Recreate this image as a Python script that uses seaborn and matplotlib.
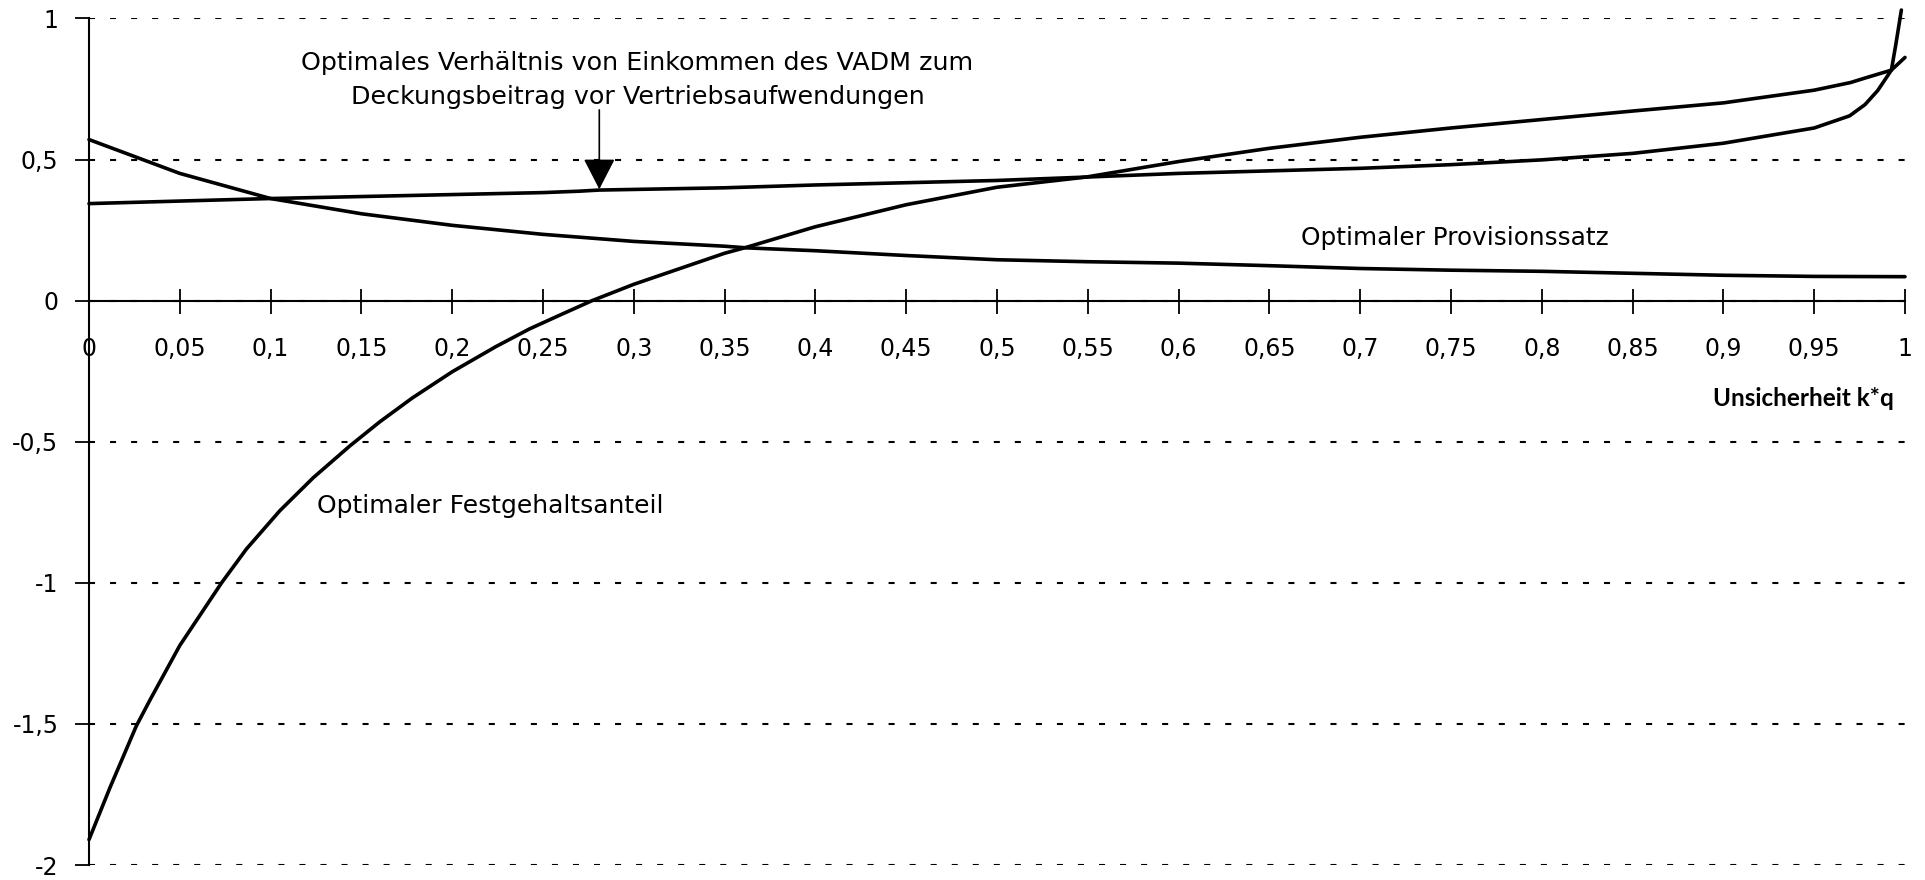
import matplotlib
matplotlib.use("Agg")
import matplotlib.pyplot as plt
import seaborn as sns

# ---------------- data ----------------
x_ticks = [0, 0.05, 0.1, 0.15, 0.2, 0.25, 0.3, 0.35, 0.4, 0.45, 0.5,
           0.55, 0.6, 0.65, 0.7, 0.75, 0.8, 0.85, 0.9, 0.95, 1.0]
x_tick_labels = ["0", "0,05", "0,1", "0,15", "0,2", "0,25", "0,3", "0,35", "0,4",
                 "0,45", "0,5", "0,55", "0,6", "0,65", "0,7", "0,75", "0,8",
                 "0,85", "0,9", "0,95", "1"]
y_ticks = [-2, -1.5, -1, -0.5, 0, 0.5, 1]
y_tick_labels = ["-2", "-1,5", "-1", "-0,5", "0", "0,5", "1"]

# Optimaler Provisionssatz
prov_x = [0, 0.05, 0.1, 0.15, 0.2, 0.25, 0.3, 0.35, 0.3625, 0.4, 0.45, 0.5,
          0.55, 0.6, 0.65, 0.7, 0.75, 0.8, 0.85, 0.9, 0.95, 1.0]
prov_y = [0.571, 0.451, 0.362, 0.308, 0.267, 0.235, 0.21, 0.193, 0.187, 0.177,
          0.16, 0.145, 0.138, 0.133, 0.124, 0.114, 0.108, 0.104, 0.097, 0.09,
          0.086, 0.085]

# Optimaler Festgehaltsanteil
fest_x = [0, 0.0116, 0.026, 0.0336, 0.05, 0.073, 0.0867, 0.105, 0.1234, 0.1436,
          0.16, 0.178, 0.2, 0.224, 0.2426, 0.259, 0.277, 0.3, 0.35, 0.3625,
          0.4, 0.45, 0.5, 0.549, 0.6, 0.65, 0.7, 0.75, 0.8, 0.85, 0.9, 0.95,
          0.97, 0.978, 0.9925, 1.0]
fest_y = [-1.91, -1.725, -1.508, -1.415, -1.222, -1.0, -0.88, -0.745, -0.628, -0.515,
          -0.43, -0.345, -0.252, -0.163, -0.1, -0.052, 0.0, 0.058, 0.168, 0.19,
          0.262, 0.34, 0.402, 0.438, 0.493, 0.54, 0.579, 0.612, 0.642, 0.672,
          0.701, 0.746, 0.773, 0.789, 0.817, 0.862]

# Optimales Verhältnis von Einkommen des VADM zum Deckungsbeitrag
ratio_x = [0, 0.1, 0.25, 0.27, 0.281, 0.35, 0.4, 0.45, 0.5, 0.549, 0.6, 0.65,
           0.7, 0.75, 0.8, 0.85, 0.9, 0.95, 0.9695, 0.978, 0.985, 0.9925,
           0.995, 0.998]
ratio_y = [0.344, 0.362, 0.383, 0.388, 0.392, 0.40, 0.41, 0.418, 0.426, 0.438,
           0.451, 0.46, 0.469, 0.482, 0.499, 0.522, 0.558, 0.612, 0.655, 0.695,
           0.745, 0.817, 0.91, 1.03]

label_ratio_1 = "Optimales Verhältnis von Einkommen des VADM zum"
label_ratio_2 = "Deckungsbeitrag vor Vertriebsaufwendungen"
label_prov = "Optimaler Provisionssatz"
label_fest = "Optimaler Festgehaltsanteil"
x_label = "Unsicherheit k*q"

# ---------------- styling ----------------
sns.set_style("white")
plt.rcParams["font.family"] = ["DejaVu Sans"]
plt.rcParams["text.color"] = "black"

fig = plt.figure(figsize=(19.25, 8.8), dpi=100)
ax = fig.add_axes([89 / 1925, 1 - 865 / 880, (1905 - 89) / 1925, (865 - 18.5) / 880])

line_kw = dict(color="black", linewidth=2.6, estimator=None, sort=False,
               clip_on=False, zorder=4)
sns.lineplot(x=prov_x, y=prov_y, ax=ax, **line_kw)
sns.lineplot(x=fest_x, y=fest_y, ax=ax, **line_kw)
sns.lineplot(x=ratio_x, y=ratio_y, ax=ax, **line_kw)
for ln in ax.get_lines():
    ln.set_solid_joinstyle("round")
    ln.set_solid_capstyle("round")

ax.set_xlim(0, 1)
ax.set_ylim(-2, 1)

# axes / spines
for s in ["top", "right"]:
    ax.spines[s].set_visible(False)
ax.spines["bottom"].set_position(("data", 0))
ax.spines["left"].set_position(("data", 0))
for s in ["bottom", "left"]:
    ax.spines[s].set_color("black")
    ax.spines[s].set_linewidth(1.5)
    ax.spines[s].set_zorder(3)

ax.set_xticks(x_ticks)
ax.set_xticklabels(x_tick_labels)
ax.set_yticks(y_ticks)
ax.set_yticklabels(y_tick_labels)
ax.tick_params(axis="x", direction="inout", length=18, width=1.3, pad=17,
               labelsize=17, colors="black", bottom=True)
ax.tick_params(axis="y", direction="out", length=10, width=1.3, pad=12,
               labelsize=17, colors="black", left=True)

# dotted horizontal grid
ax.yaxis.grid(True, color="black", linewidth=1.5, linestyle=(0, (2.9, 7.2)), zorder=1)
ax.xaxis.grid(False)
ax.set_xlabel("")
ax.set_ylabel("")

# annotations
ax.text(0.302, 0.842, label_ratio_1, ha="center", va="center", fontsize=18.3,
        color="black")
ax.text(0.302, 0.722, label_ratio_2, ha="center", va="center", fontsize=18.3,
        color="black")
ax.annotate("", xy=(0.281, 0.395), xytext=(0.281, 0.676),
            arrowprops=dict(arrowstyle="-|>,head_length=0.97,head_width=0.5",
                            mutation_scale=20, lw=1.2, color="black",
                            shrinkA=0, shrinkB=0), zorder=5)
ax.text(0.752, 0.222, label_prov, ha="center", va="center", fontsize=17.8,
        color="black")
ax.text(0.1255, -0.727, label_fest, ha="left", va="center", fontsize=18,
        color="black")
ax.text(0.9939, -0.345, x_label, ha="right", va="center", fontsize=17.5,
        fontweight="bold", family=["Lato", "DejaVu Sans"], color="black")

fig.savefig("out.png", dpi=100, facecolor="white")
